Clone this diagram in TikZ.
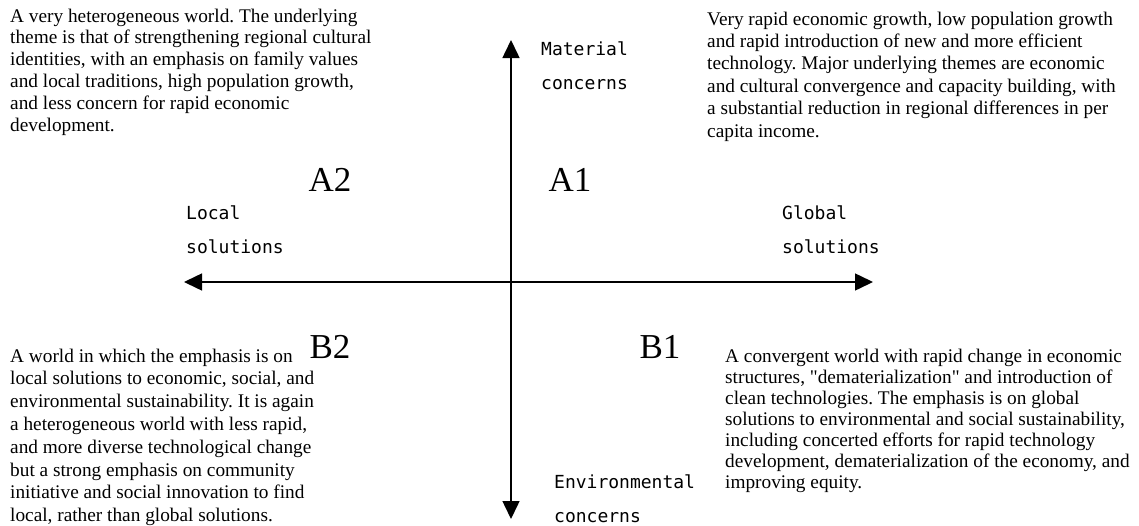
\documentclass[tikz,border=0pt]{standalone}
\usepackage{fontspec}
\setmainfont{Liberation Serif}
\newfontfamily\rawserif{Liberation Serif}[Ligatures=TeXOff]
\newfontfamily\axisfont{DejaVu Sans Mono}
\usetikzlibrary{arrows.meta}
\frenchspacing
\tikzset{
  axis/.style={line width=1.5pt, {Triangle[length=18pt,width=17pt]}-{Triangle[length=18pt,width=17pt]}},
  body/.style={anchor=base west, inner sep=0pt, font=\fontsize{19.3pt}{22pt}\selectfont},
  axislabel/.style={anchor=base west, inner sep=0pt, font=\axisfont\fontsize{18pt}{34pt}\selectfont},
  quad/.style={anchor=center, inner sep=0pt, font=\fontsize{35pt}{40pt}\selectfont}
}
\newcommand{\blk}[2]{\parbox[t]{460pt}{\raggedright\frenchspacing\baselineskip=#1 #2}}
\newcommand{\sq}{{\rawserif"}}
\begin{document}
\begin{tikzpicture}[x=1pt,y=-1pt]
\useasboundingbox (0,0) rectangle (1139,525);
% axes
\coordinate (vtop) at (511,40);
\coordinate (vbot) at (511,519);
\coordinate (hleft) at (184,282);
\coordinate (hright) at (873,282);
\draw[axis] (vtop) -- (vbot);
\draw[axis] (hleft) -- (hright);
% axis labels
\node[axislabel] (mat) at (541,55) {\parbox[t]{200pt}{\baselineskip=34pt Material\\concerns}};
\node[axislabel] (loc) at (186,219.5) {\parbox[t]{200pt}{\baselineskip=34pt Local\\solutions}};
\node[axislabel] (glo) at (782,219.5) {\parbox[t]{200pt}{\baselineskip=34pt Global\\solutions}};
\node[axislabel] (env) at (554,488) {\parbox[t]{200pt}{\baselineskip=34pt Environmental\\concerns}};
% quadrant labels
\node[quad] (a2) at (330,180) {A2};
\node[quad] (a1) at (570,180) {A1};
\node[quad] (b2) at (330,347) {B2};
\node[quad] (b1) at (660,347) {B1};
% descriptions
\node[body] (tl) at (10,22) {\blk{21.8pt}{A very heterogeneous world. The underlying\\
theme is that of strengthening regional cultural\\
identities, with an emphasis on family values\\
and local traditions, high population growth,\\
and less concern for rapid economic\\
development.}};
\node[body] (tr) at (707,25) {\blk{22.4pt}{Very rapid economic growth, low population growth\\
and rapid introduction of new and more efficient\\
technology. Major underlying themes are economic\\
and cultural convergence and capacity building, with\\
a substantial reduction in regional differences in per\\
capita income.}};
\node[body] (bl) at (10,362) {\blk{22.8pt}{A world in which the emphasis is on\\
local solutions to economic, social, and\\
environmental sustainability. It is again\\
a heterogeneous world with less rapid,\\
and more diverse technological change\\
but a strong emphasis on community\\
initiative and social innovation to find\\
local, rather than global solutions.}};
\node[body] (br) at (725,362) {\blk{21pt}{A convergent world with rapid change in economic\\
structures, \sq dematerialization\sq{} and introduction of\\
clean technologies. The emphasis is on global\\
solutions to environmental and social sustainability,\\
including concerted efforts for rapid technology\\
development, dematerialization of the economy, and\\
improving equity.}};
\end{tikzpicture}
\end{document}
